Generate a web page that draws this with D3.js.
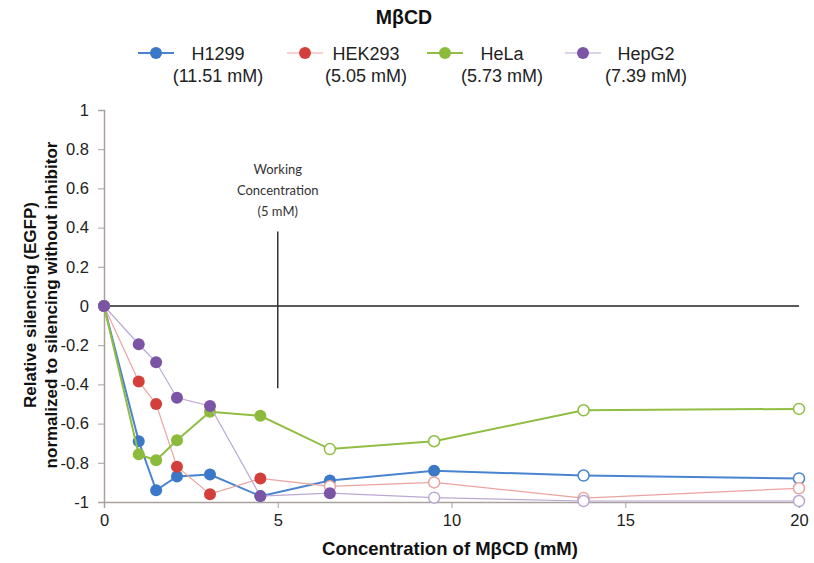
<!DOCTYPE html>
<html>
<head>
<meta charset="utf-8">
<script src="https://cdn.jsdelivr.net/npm/d3@7"></script>
<style>
  body { margin: 0; background: #fff; }
  text { font-family: "Liberation Sans", Arial, sans-serif; }
</style>
</head>
<body>
<svg id="chart" width="814" height="563"></svg>
<script>
const width = 814;
const height = 563;
const margin = { top: 110, right: 15, bottom: 61, left: 104 };
const sid = "#chart";

// concentrations (mM)
const conc = [0, 1, 1.5, 2.1, 3.05, 4.5, 6.5, 9.5, 13.8, 20];

const seriesNames = ["H1299", "HEK293", "HeLa", "HepG2"];
const seriesIC = ["(11.51 mM)", "(5.05 mM)", "(5.73 mM)", "(7.39 mM)"];

const h1299 = [0, -0.69, -0.94, -0.87, -0.86, -0.97, -0.89, -0.84, -0.865, -0.88];
const hek293 = [0, -0.385, -0.50, -0.82, -0.96, -0.88, -0.92, -0.90, -0.98, -0.93];
const hela = [0, -0.757, -0.787, -0.685, -0.54, -0.56, -0.73, -0.69, -0.532, -0.525];
const hepg2 = [0, -0.195, -0.287, -0.468, -0.51, -0.97, -0.955, -0.978, -0.995, -0.995];

// index from which points are drawn hollow
const hollowFrom = [8, 6, 6, 7];

const yTicks = [1, 0.8, 0.6, 0.4, 0.2, 0, -0.2, -0.4, -0.6, -0.8, -1];
const xTicks = [0, 5, 10, 15, 20];

const workingX = 5;
const workingY = [0.38, -0.42];
const workingLabel = ["Working", "Concentration", "(5 mM)"];

const markerColors = ["#3b78c8", "#d3403b", "#8cbb3b", "#7b54a6"];
const lineColors = ["#4a84d0", "#eba3a0", "#8fbe43", "#baa8d4"];
const lineWidths = [2, 1.2, 2, 1.2];

const svg = d3.select(sid);

const xScale = d3.scaleLinear()
    .domain([0, 20])
    .range([margin.left, width - margin.right]);

const yScale = d3.scaleLinear()
    .domain([-1, 1])
    .range([height - margin.bottom, margin.top]);

// Y axis
const yAxis = svg.append("g")
    .attr("transform", `translate(${margin.left},0)`)
    .call(d3.axisLeft(yScale).tickValues(yTicks).tickSize(6).tickPadding(9)
        .tickFormat(d => String(Math.round(d * 10) / 10)));
yAxis.select(".domain").attr("stroke", "#aaa0a0").attr("stroke-width", 1.5);
yAxis.selectAll(".tick line").attr("stroke", "#aaa0a0");
yAxis.selectAll("text").attr("font-size", 16.5).attr("fill", "#222")
    .style("font-family", "'Liberation Sans', Arial, sans-serif");

// X axis
const xAxis = svg.append("g")
    .attr("transform", `translate(0,${height - margin.bottom})`)
    .call(d3.axisBottom(xScale).tickValues(xTicks).tickSize(6).tickPadding(6));
xAxis.select(".domain").attr("stroke", "#aaa0a0").attr("stroke-width", 1.5);
xAxis.selectAll(".tick line").attr("stroke", "#aaa0a0");
xAxis.selectAll("text").attr("font-size", 16.5).attr("fill", "#222")
    .style("font-family", "'Liberation Sans', Arial, sans-serif");

// zero line
svg.append("line")
    .attr("x1", xScale(0)).attr("x2", xScale(20))
    .attr("y1", yScale(0)).attr("y2", yScale(0))
    .attr("stroke", "#222").attr("stroke-width", 1.5);

// working concentration line
svg.append("line")
    .attr("x1", xScale(workingX)).attr("x2", xScale(workingX))
    .attr("y1", yScale(workingY[0])).attr("y2", yScale(workingY[1]))
    .attr("stroke", "#333").attr("stroke-width", 1.5);

svg.append("text")
    .attr("x", xScale(workingX))
    .attr("text-anchor", "middle")
    .attr("font-size", 13)
    .attr("fill", "#333")
    .style("font-family", "Lato, 'Open Sans', sans-serif")
    .selectAll("tspan")
    .data(workingLabel)
    .enter()
    .append("tspan")
        .attr("x", xScale(workingX))
        .attr("y", (d, i) => 174 + i * 21)
        .text(d => d);

// series
const allSeries = [h1299, hek293, hela, hepg2].map((vals, s) => ({
    name: seriesNames[s],
    points: vals.map((v, i) => ({ x: conc[i], y: v, hollow: i >= hollowFrom[s] }))
}));

const line = d3.line()
    .x(d => xScale(d.x))
    .y(d => yScale(d.y));

allSeries.forEach((series, s) => {
    const g = svg.append("g");
    g.append("path")
        .datum(series.points)
        .attr("d", line)
        .attr("fill", "none")
        .attr("stroke", lineColors[s])
        .attr("stroke-width", lineWidths[s]);

    g.selectAll("circle")
        .data(series.points)
        .enter()
        .append("circle")
            .attr("cx", d => xScale(d.x))
            .attr("cy", d => yScale(d.y))
            .attr("r", d => d.hollow ? 5.5 : 6)
            .attr("fill", d => d.hollow ? "#fff" : markerColors[s])
            .attr("stroke", d => d.hollow ? lineColors[s] : "none")
            .attr("stroke-width", 1.5);
});

// title
svg.append("text")
    .attr("x", 404).attr("y", 24)
    .attr("text-anchor", "middle")
    .attr("font-size", 19.5).attr("font-weight", "bold")
    .attr("fill", "#111")
    .text("MβCD");

// legend
const legendMarkerX = [156, 305, 445, 583];
const legendTextX = [218, 366, 502, 646];
seriesNames.forEach((name, s) => {
    const g = svg.append("g");
    g.append("line")
        .attr("x1", legendMarkerX[s] - 18).attr("x2", legendMarkerX[s] + 18)
        .attr("y1", 53).attr("y2", 53)
        .attr("stroke", lineColors[s]).attr("stroke-width", lineWidths[s]);
    g.append("circle")
        .attr("cx", legendMarkerX[s]).attr("cy", 53).attr("r", 6)
        .attr("fill", markerColors[s]);
    g.append("text")
        .attr("x", legendTextX[s]).attr("y", 59.5)
        .attr("text-anchor", "middle")
        .attr("font-size", 18).attr("fill", "#222")
        .text(name);
    g.append("text")
        .attr("x", legendTextX[s]).attr("y", 82)
        .attr("text-anchor", "middle")
        .attr("font-size", 18).attr("fill", "#222")
        .text(seriesIC[s]);
});

// x-axis label
svg.append("text")
    .attr("x", 450).attr("y", 555)
    .attr("text-anchor", "middle")
    .attr("font-size", 18.5).attr("font-weight", "bold")
    .attr("fill", "#111")
    .text("Concentration of MβCD (mM)");

// y-axis label
const yTitle = svg.append("text")
    .attr("transform", "rotate(-90)")
    .attr("text-anchor", "middle")
    .attr("font-size", 17).attr("font-weight", "bold")
    .attr("fill", "#111");
yTitle.append("tspan").attr("x", -305).attr("y", 36).text("Relative silencing (EGFP)");
yTitle.append("tspan").attr("x", -305).attr("y", 57).text("normalized to silencing without inhibitor");
</script>
</body>
</html>
